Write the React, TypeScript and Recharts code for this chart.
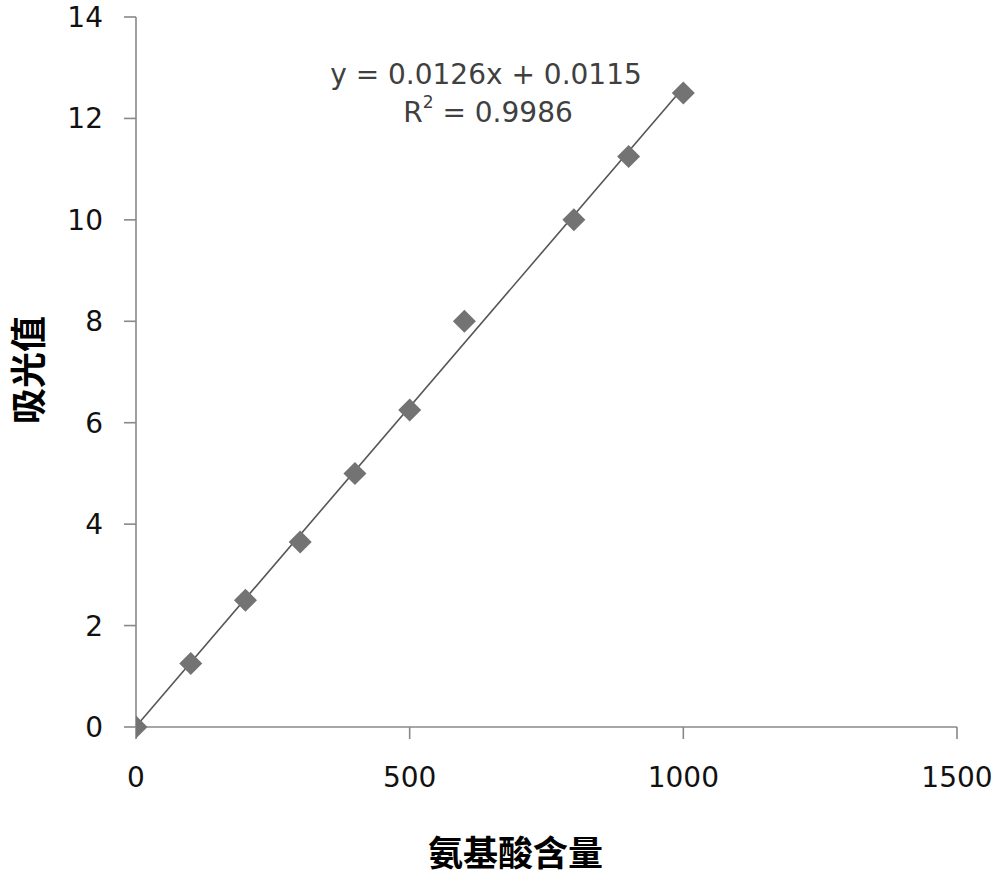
import React from 'react';
import {
  ScatterChart,
  Scatter,
  XAxis,
  YAxis,
  ReferenceLine,
  Customized,
} from 'recharts';

const contents = [0, 100, 200, 300, 400, 500, 600, 800, 900, 1000];
const absorbance = [0, 1.25, 2.5, 3.65, 5.0, 6.25, 8.0, 10.0, 11.25, 12.5];
const xTicks = [0, 500, 1000, 1500];
const yTicks = [0, 2, 4, 6, 8, 10, 12, 14];
const slope = 0.0126;
const intercept = 0.0115;
const fitStart = 0;
const fitEnd = 1000;
const equationText = 'y = 0.0126x + 0.0115';
const r2Value = '0.9986';
const xLabel = '氨基酸含量';
const yLabel = '吸光值';

const data = contents.map((x, i) => ({ x, y: absorbance[i] }));

const AXIS_COLOR = '#888888';
const TICK_FONT = 'DejaVu Sans, Verdana, sans-serif';
const CJK_FONT = '"Noto Sans CJK SC", sans-serif';

const Diamond = (props: any) => {
  const { cx, cy } = props;
  if (cx == null || cy == null) return null;
  const h = 11.5;
  return (
    <polygon
      points={`${cx},${cy - h} ${cx + h},${cy} ${cx},${cy + h} ${cx - h},${cy}`}
      fill="#737373"
    />
  );
};

const YAxisLabel = (props: any) => {
  const vb = props.viewBox || {};
  const cx = 26;
  const cy = vb.y + vb.height / 2 - 2;
  return (
    <text
      x={cx}
      y={cy}
      transform={`rotate(-90, ${cx}, ${cy})`}
      textAnchor="middle"
      dominantBaseline="central"
      fontFamily={CJK_FONT}
      fontWeight="bold"
      fontSize={36}
      fill="#000"
    >
      {yLabel}
    </text>
  );
};

const XAxisLabel = (props: any) => {
  const vb = props.viewBox || {};
  const cx = vb.x + vb.width / 2 - 31;
  const cy = 850;
  return (
    <text
      x={cx}
      y={cy}
      textAnchor="middle"
      dominantBaseline="central"
      fontFamily={CJK_FONT}
      fontWeight="bold"
      fontSize={35}
      fill="#000"
    >
      {xLabel}
    </text>
  );
};

const Equation = () => (
  <g fontFamily={TICK_FONT} fontSize={28} fill="#404040">
    <text x={486} y={74} textAnchor="middle" dominantBaseline="central">
      {equationText}
    </text>
    <text x={488} y={112} textAnchor="middle" dominantBaseline="central">
      R<tspan fontSize={17} dy={-10}>2</tspan>
      <tspan dy={10}>{' = ' + r2Value}</tspan>
    </text>
  </g>
);

export default function App() {
  return (
    <div style={{ position: 'absolute', left: 0, top: 0, background: '#fff' }}>
      <ScatterChart
        width={1000}
        height={876}
        margin={{ top: 17, right: 43, bottom: 89, left: 0 }}
      >
        <XAxis
          type="number"
          dataKey="x"
          domain={[0, 1500]}
          ticks={xTicks}
          allowDataOverflow
          height={60}
          stroke={AXIS_COLOR}
          strokeWidth={1.6}
          tickSize={12}
          tickMargin={28}
          tick={{ fontSize: 28, fill: '#111', fontFamily: TICK_FONT }}
          label={<XAxisLabel />}
        />
        <YAxis
          type="number"
          dataKey="y"
          domain={[0, 14]}
          ticks={yTicks}
          width={136}
          stroke={AXIS_COLOR}
          strokeWidth={1.6}
          tickSize={12}
          tickMargin={21}
          tick={{ fontSize: 28, fill: '#111', fontFamily: TICK_FONT }}
          label={<YAxisLabel />}
        />
        <Scatter data={data} shape={<Diamond />} isAnimationActive={false} />
        <ReferenceLine
          segment={[
            { x: fitStart, y: slope * fitStart + intercept },
            { x: fitEnd, y: slope * fitEnd + intercept },
          ]}
          stroke="#555555"
          strokeWidth={1.6}
          ifOverflow="visible"
        />
        <Customized component={Equation} />
      </ScatterChart>
    </div>
  );
}
